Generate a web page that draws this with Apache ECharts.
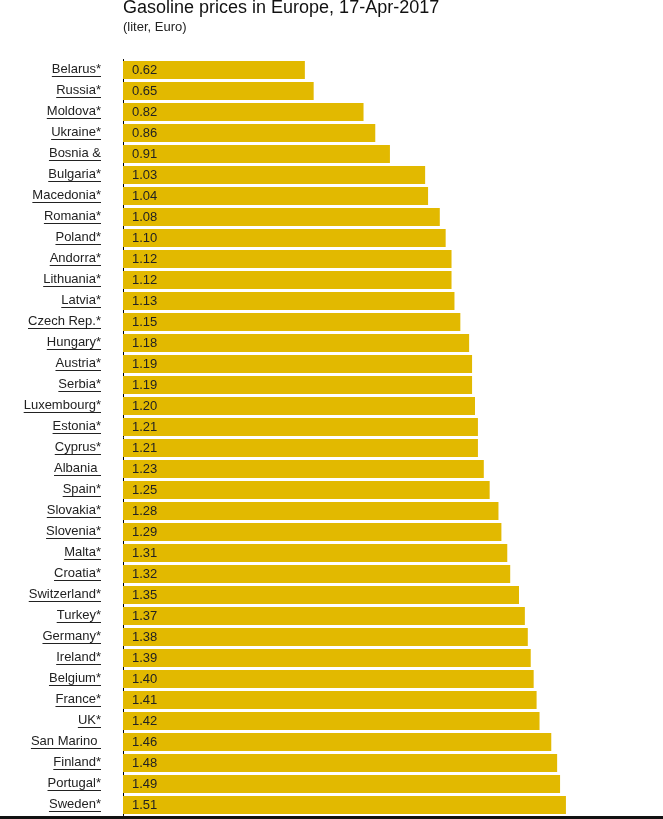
<!DOCTYPE html>
<html>
<head>
<meta charset="utf-8">
<script src="https://cdn.jsdelivr.net/npm/echarts@6/dist/echarts.min.js"></script>
<style>
  html, body { margin: 0; padding: 0; background: #fff; }
  #maindiv { width: 663px; height: 819px; }
</style>
</head>
<body>
<div id="maindiv"></div>
<script>
// data, top to bottom
var countries = [
    'Belarus*', 'Russia*', 'Moldova*', 'Ukraine*', 'Bosnia &',
    'Bulgaria*', 'Macedonia*', 'Romania*', 'Poland*', 'Andorra*',
    'Lithuania*', 'Latvia*', 'Czech Rep.*', 'Hungary*', 'Austria*',
    'Serbia*', 'Luxembourg*', 'Estonia*', 'Cyprus*', 'Albania ',
    'Spain*', 'Slovakia*', 'Slovenia*', 'Malta*', 'Croatia*',
    'Switzerland*', 'Turkey*', 'Germany*', 'Ireland*', 'Belgium*',
    'France*', 'UK*', 'San Marino ', 'Finland*', 'Portugal*', 'Sweden*'
];
var prices = [
    0.62, 0.65, 0.82, 0.86, 0.91,
    1.03, 1.04, 1.08, 1.10, 1.12,
    1.12, 1.13, 1.15, 1.18, 1.19,
    1.19, 1.20, 1.21, 1.21, 1.23,
    1.25, 1.28, 1.29, 1.31, 1.32,
    1.35, 1.37, 1.38, 1.39, 1.40,
    1.41, 1.42, 1.46, 1.48, 1.49, 1.51
];
var titleText = 'Gasoline prices in Europe, 17-Apr-2017';
var subText = '(liter, Euro)';

var labelFont = '13px "Liberation Sans", Arial, sans-serif';
var measureCtx = document.createElement('canvas').getContext('2d');
measureCtx.font = labelFont;

var chart = echarts.init(document.getElementById('maindiv'));

// country names drawn with an underline, like links
function renderName(params, api) {
    var i = api.value(0);
    var pt = api.coord([0, i]);
    var name = countries[i];
    var w = measureCtx.measureText(name).width;
    var xr = pt[0] - 22;
    var y = pt[1];
    return {
        type: 'group',
        children: [
            {
                type: 'text',
                style: {
                    text: name,
                    x: xr,
                    y: y - 1,
                    align: 'right',
                    verticalAlign: 'middle',
                    font: labelFont,
                    fill: '#222'
                }
            },
            {
                type: 'line',
                shape: { x1: xr - w, y1: y + 6.5, x2: xr, y2: y + 6.5 },
                style: { stroke: '#222', lineWidth: 1 }
            }
        ]
    };
}

var option = {
    backgroundColor: '#fff',
    animation: false,
    title: {
        text: titleText,
        subtext: subText,
        left: 118,
        top: -6,
        itemGap: 4,
        textStyle: {
            fontFamily: '"Liberation Sans", Arial, sans-serif',
            fontSize: 18,
            fontWeight: 'normal',
            color: '#111'
        },
        subtextStyle: {
            fontFamily: '"Liberation Sans", Arial, sans-serif',
            fontSize: 13,
            color: '#222'
        }
    },
    grid: { left: 123, right: 12, top: 59.5, bottom: 3.5, containLabel: false },
    xAxis: {
        type: 'value',
        min: 0,
        max: 1.8,
        show: false
    },
    yAxis: {
        type: 'category',
        data: countries,
        inverse: true,
        axisLine: { show: true, lineStyle: { color: '#000', width: 1 } },
        axisTick: { show: false },
        axisLabel: { show: false },
        splitLine: { show: false }
    },
    series: [
        {
            type: 'bar',
            data: prices,
            barCategoryGap: '14%',
            itemStyle: { color: '#e2b900' },
            label: {
                show: true,
                position: 'insideLeft',
                distance: 9,
                color: '#222',
                fontFamily: '"Liberation Sans", Arial, sans-serif',
                fontSize: 13,
                formatter: function (p) { return p.value.toFixed(2); }
            }
        },
        {
            type: 'custom',
            renderItem: renderName,
            data: countries.map(function (c, i) { return [i]; }),
            encode: { y: 0 },
            silent: true,
            clip: false
        }
    ],
    graphic: [
        {
            type: 'rect',
            left: 0,
            bottom: 0,
            shape: { width: 663, height: 3 },
            style: { fill: '#111' }
        }
    ]
};
chart.setOption(option);
</script>
</body>
</html>
